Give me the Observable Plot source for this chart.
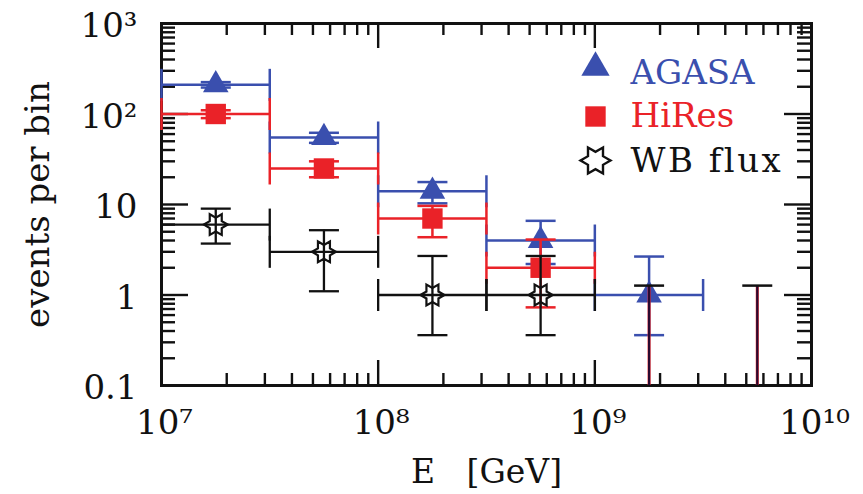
<!DOCTYPE html>
<html><head><meta charset="utf-8">
<script src="https://cdn.jsdelivr.net/npm/d3@7"></script>
<script src="https://cdn.jsdelivr.net/npm/@observablehq/plot@0.6"></script>
<style>
html,body{margin:0;padding:0;background:#fff;}
#chart{width:863px;height:494px;}
</style>
</head><body><div id="chart"></div>
<script>
// ---- data ----
const binCenter = [1.78e7, 5.62e7, 1.78e8, 5.62e8, 1.78e9, 5.62e9];
const binLow    = [1e7, 3.16e7, 1e8, 3.16e8, 1e9, 3.16e9];
const binHigh   = [3.16e7, 1e8, 3.16e8, 1e9, 3.16e9, 1e10];

const agasaEvents  = [210, 55, 14, 4, 1];
const agasaErrLow  = [196, 48, 10.3, 2.2, 0.36];
const agasaErrHigh = [225, 62, 17.7, 6.6, 2.66];

const hiresEvents  = [100, 25, 7, 2];
const hiresErrLow  = [90, 20, 4.35, 0.73];
const hiresErrHigh = [110, 30, 9.65, 4.1];

const wbEvents  = [6, 3, 1, 1];
const wbErrLow  = [3.7, 1.1, 0.36, 0.36];
const wbErrHigh = [9, 5.2, 2.7, 2.7];

const wbLimitBin  = [4, 5];
const wbLimitLow  = [0.1, 0.1];
const wbLimitHigh = [1.27, 1.27];

const xTicks = [1e7, 1e8, 1e9, 1e10];
const xTickLabels = ["10\u2077", "10\u2078", "10\u2079", "10\u00b9\u2070"];
const yTicks = [0.1, 1, 10, 100, 1000];
const yTickLabels = ["0.1", "1", "10", "10\u00b2", "10\u00b3"];
const legendLabels = ["AGASA", "HiRes", "WB flux"];
const xTitle = "E\u00a0\u00a0\u00a0[GeV]";
const yTitle = "events per bin";

const BLUE = "#3a4fae", RED = "#ea2228", BLACK = "#111";

// ---- helpers ----
const vCap = {draw(ctx, size){ const h = Math.sqrt(size/Math.PI); ctx.moveTo(0,-h); ctx.lineTo(0,h); }};
const hCap = {draw(ctx, size){ const h = Math.sqrt(size/Math.PI); ctx.moveTo(-h,0); ctx.lineTo(h,0); }};
const hexagram = {draw(ctx, size){
  const R = Math.sqrt(size/Math.PI), r = R/Math.sqrt(3);
  for (let k = 0; k < 12; k++) {
    const a = k*Math.PI/6, rr = k%2 ? r : R;
    const px = rr*Math.cos(a), py = rr*Math.sin(a);
    if (k===0) ctx.moveTo(px,py); else ctx.lineTo(px,py);
  }
  ctx.closePath();
}};

function rows(n, lo, hi) {
  return n.map((v,i) => ({e: binCenter[i], x1: binLow[i], x2: binHigh[i], n: v, lo: lo[i], hi: hi[i]}));
}
const agasa = rows(agasaEvents, agasaErrLow, agasaErrHigh);
const hires = rows(hiresEvents, hiresErrLow, hiresErrHigh);
const wb = rows(wbEvents, wbErrLow, wbErrHigh);
const wbLimits = wbLimitBin.map((b,i) => ({e: binCenter[b], lo: wbLimitLow[i], hi: wbLimitHigh[i]}));

function errorMarks(data, color, w = 2.5) {
  const s = {stroke: color, strokeWidth: w, fill: "none"};
  return [
    Plot.ruleY(data, {y: "n", x1: "x1", x2: "x2", ...s}),
    Plot.dot(data, {x: "x1", y: "n", symbol: vCap, r: 16, ...s}),
    Plot.dot(data, {x: "x2", y: "n", symbol: vCap, r: 16, ...s}),
    Plot.ruleX(data, {x: "e", y1: "lo", y2: "hi", ...s}),
    Plot.dot(data, {x: "e", y: "lo", symbol: hCap, r: 15, ...s}),
    Plot.dot(data, {x: "e", y: "hi", symbol: hCap, r: 15, ...s})
  ];
}

const minorX = [1e7, 1e8, 1e9].flatMap(d => [2,3,4,5,6,7,8,9].map(k => k*d));
const minorY = [0.1, 1, 10, 100].flatMap(d => [2,3,4,5,6,7,8,9].map(k => k*d));

const W = 863, H = 494, ML = 161, MR = 52, MT = 23, MB = 109;
const FW = W - ML - MR, FH = H - MT - MB;
const tk = {stroke: BLACK, strokeWidth: 2.4};

const chart = Plot.plot({
  width: W, height: H,
  marginLeft: ML, marginRight: MR, marginTop: MT, marginBottom: MB,
  style: {fontFamily: "'DejaVu Serif', serif", background: "#fff", color: BLACK},
  x: {type: "log", domain: [1e7, 1e10], axis: null},
  y: {type: "log", domain: [0.1, 1000], axis: null},
  marks: [
    // inward ticks on all four sides
    Plot.ruleX(xTicks, {x: d => d, insetTop: FH - 25, ...tk}),
    Plot.ruleX(xTicks, {x: d => d, insetBottom: FH - 25, ...tk}),
    Plot.ruleX(minorX, {x: d => d, insetTop: FH - 12, ...tk}),
    Plot.ruleX(minorX, {x: d => d, insetBottom: FH - 12, ...tk}),
    Plot.ruleY(yTicks, {y: d => d, insetRight: FW - 27, ...tk}),
    Plot.ruleY(yTicks, {y: d => d, insetLeft: FW - 27, ...tk}),
    Plot.ruleY(minorY, {y: d => d, insetRight: FW - 14, ...tk}),
    Plot.ruleY(minorY, {y: d => d, insetLeft: FW - 14, ...tk}),
    Plot.frame({stroke: BLACK, strokeWidth: 3}),

    // AGASA
    ...errorMarks(agasa, BLUE),
    Plot.dot(agasa, {x: "e", y: "n", symbol: "triangle", r: 9.5, fill: BLUE}),
    // HiRes
    ...errorMarks(hires, RED),
    Plot.dot(hires, {x: "e", y: "n", symbol: "square", r: 11.5, fill: RED}),
    // WB flux
    ...errorMarks(wb, BLACK, 2.3),
    Plot.dot(wb, {x: "e", y: "n", symbol: hexagram, r: 12, stroke: BLACK, strokeWidth: 2.2, fill: "none"}),
    // upper limits
    Plot.ruleX(wbLimits, {x: "e", y1: "lo", y2: "hi", stroke: RED, strokeWidth: 3}),
    Plot.ruleX(wbLimits, {x: "e", y1: "lo", y2: "hi", stroke: "#2a0a30", strokeWidth: 2.2}),
    Plot.dot(wbLimits, {x: "e", y: "hi", symbol: hCap, r: 15, stroke: BLACK, strokeWidth: 2.5}),

    // legend
    Plot.dot([0], {frameAnchor: "top-left", dx: 434, dy: 44, symbol: "triangle", r: 10.5, fill: BLUE}),
    Plot.dot([0], {frameAnchor: "top-left", dx: 434, dy: 93, symbol: "square", r: 11.5, fill: RED}),
    Plot.dot([0], {frameAnchor: "top-left", dx: 434, dy: 137, symbol: hexagram, r: 15, stroke: BLACK, strokeWidth: 2.4, fill: "none"}),
    ...legendLabels.map((t, i) => Plot.text([t], {
      text: d => d, frameAnchor: "top-left", textAnchor: "start", lineAnchor: "middle",
      dx: 469, dy: [50, 93, 138][i], fontSize: 34, fill: [BLUE, RED, BLACK][i]
    })),

    // tick labels
    Plot.text(yTicks, {y: d => d, text: (d, i) => yTickLabels[i], frameAnchor: "left", textAnchor: "end", lineAnchor: "middle", dx: -24, dy: 3, fontSize: 34, fill: BLACK}),
    Plot.text(xTicks, {x: d => d, text: (d, i) => xTickLabels[i], frameAnchor: "bottom", textAnchor: "middle", lineAnchor: "middle", dy: 38, dx: 3, fontSize: 34, fill: BLACK}),
    // axis titles
    Plot.text([yTitle], {text: d => d, frameAnchor: "left", textAnchor: "middle", lineAnchor: "middle", dx: -123, rotate: -90, fontSize: 34, fill: BLACK}),
    Plot.text([xTitle], {text: d => d, frameAnchor: "bottom", textAnchor: "middle", lineAnchor: "middle", dy: 87, fontSize: 33, fill: BLACK})
  ]
});
// widen the "WB flux" legend label a little, as in the reference
d3.select(chart).selectAll("text").filter(function(){ return this.textContent === "WB flux"; })
  .attr("letter-spacing", "2.5px");
document.getElementById("chart").appendChild(chart);
</script>
</body></html>
